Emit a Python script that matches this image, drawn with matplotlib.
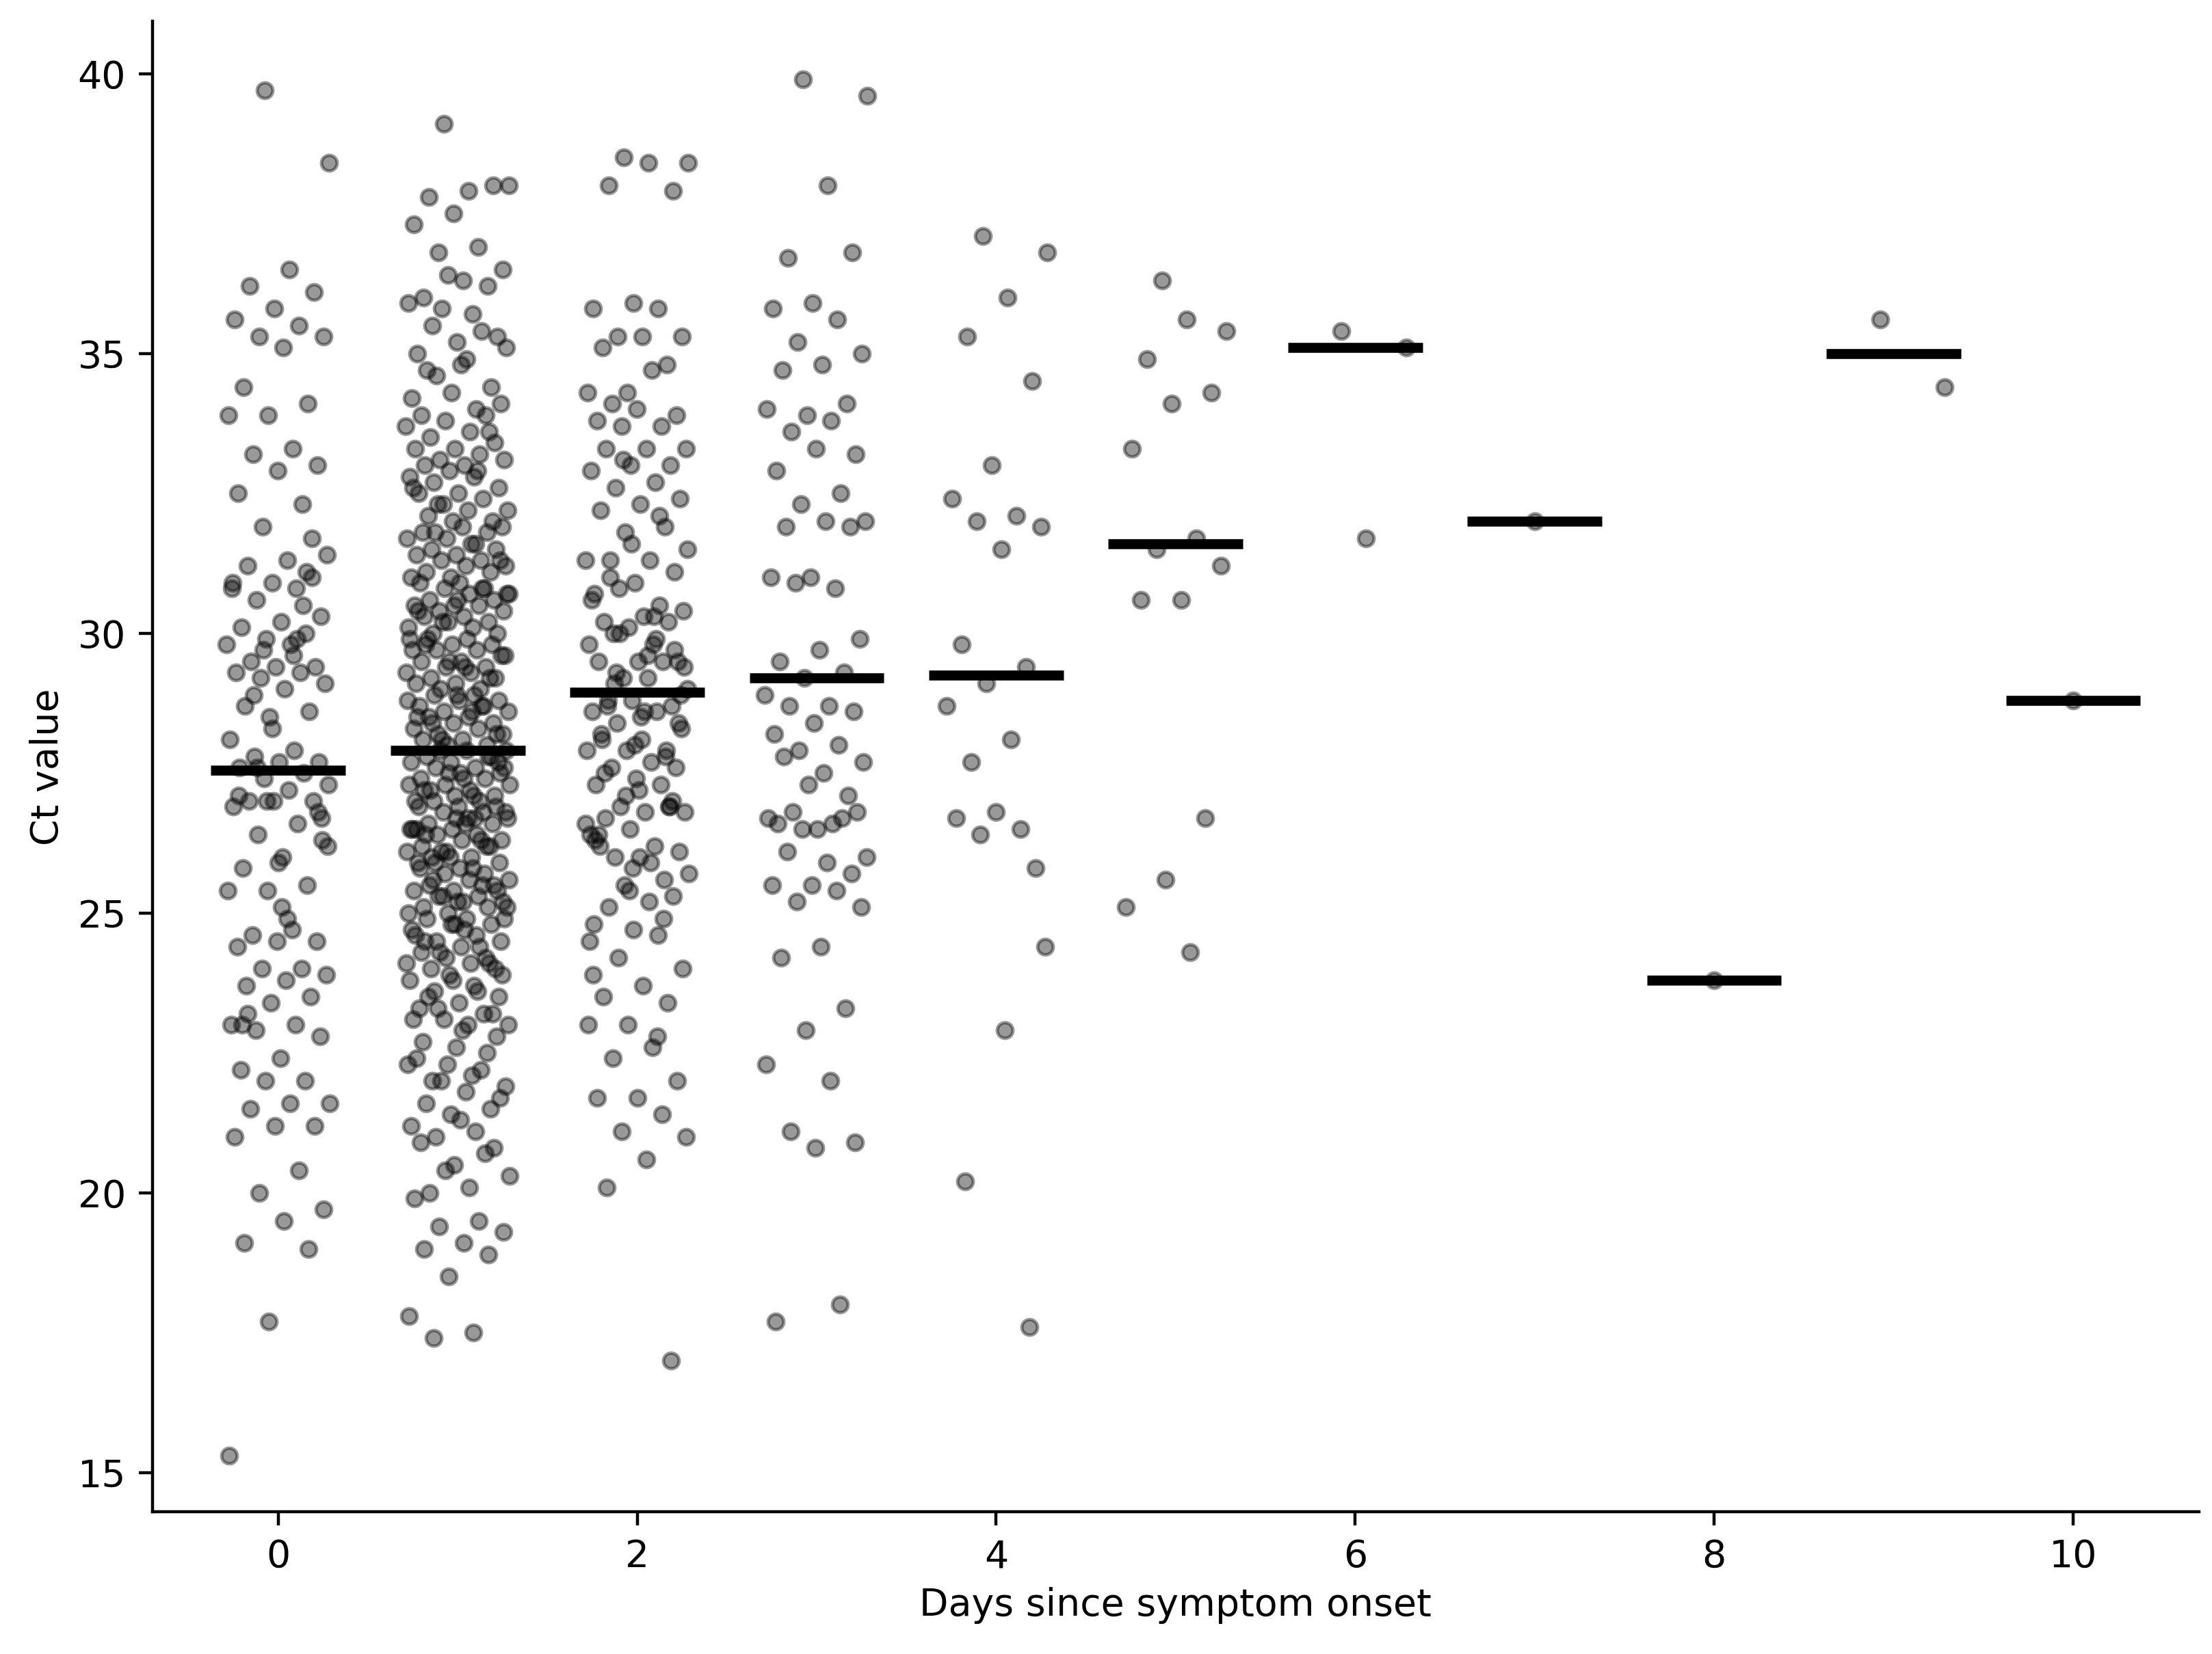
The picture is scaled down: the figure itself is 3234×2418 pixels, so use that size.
import matplotlib
matplotlib.use("Agg")
import matplotlib.pyplot as plt
import numpy as np

# Ct values per day since symptom onset
day_0 = [39.7, 38.4, 36.5, 36.2, 36.1, 35.8, 35.6, 35.5, 35.3, 35.3, 35.1, 34.4,
         34.1, 33.9, 33.9, 33.3, 33.2, 33.0, 32.9, 32.5, 32.3, 31.9, 31.4, 31.3,
         31.2, 31.0, 30.9, 30.8, 30.8, 30.6, 30.3, 30.2, 30.1, 30.0, 29.9, 29.8,
         29.8, 29.5, 29.4, 29.4, 29.3, 29.3, 29.2, 29.1, 29.0, 28.7, 28.6, 28.5,
         28.1, 27.9, 27.8, 27.7, 27.7, 27.6, 27.5, 27.4, 27.3, 27.2, 27.0, 27.0,
         27.0, 26.9, 26.6, 26.4, 26.3, 26.0, 25.8, 25.5, 25.4, 25.4, 24.7, 24.6,
         24.5, 24.5, 24.4, 24.0, 24.0, 23.9, 23.8, 23.7, 23.5, 23.4, 23.0, 23.0,
         22.9, 22.8, 22.4, 22.2, 22.0, 22.0, 21.6, 21.6, 21.5, 21.2, 21.2, 21.0,
         20.4, 20.0, 19.7, 19.5, 19.1, 19.0, 17.7, 15.3, 29.6, 28.9, 26.8, 25.9,
         27.1, 30.5, 29.7, 26.2, 24.9, 23.2, 31.7, 28.3, 30.9, 29.9, 27.6, 26.7,
         25.1, 23.0, 31.1, 27.0]
day_1 = [39.1, 38.0, 37.9, 37.8, 38.0, 37.5, 37.3,
         36.9, 36.8, 36.5, 36.3, 36.0, 36.2, 36.4,
         35.9, 35.7, 35.5, 35.3, 35.2, 35.0, 35.4, 35.8, 35.1,
         34.9, 34.7, 34.4, 34.3, 34.2, 34.0, 34.6, 34.1, 34.8,
         33.9, 33.9, 33.8, 33.7, 33.6, 33.5, 33.4, 33.3, 33.3, 33.2, 33.1, 33.1,
         33.0, 33.0, 33.6,
         32.9, 32.8, 32.8, 32.7, 32.6, 32.5, 32.5, 32.4, 32.3, 32.2, 32.2, 32.1,
         32.0, 32.0, 32.6, 32.9, 32.3,
         31.9, 31.9, 31.8, 31.8, 31.7, 31.7, 31.6, 31.5, 31.5, 31.4, 31.4, 31.3,
         31.3, 31.2, 31.2, 31.1, 31.1, 31.0, 31.0, 31.6, 31.8, 31.3,
         30.9, 30.9, 30.8, 30.8, 30.7, 30.7, 30.6, 30.6, 30.5, 30.5, 30.5, 30.4,
         30.4, 30.3, 30.3, 30.2, 30.2, 30.1, 30.1, 30.0, 30.0, 30.6, 30.4, 30.8,
         30.2, 30.7,
         29.9, 29.9, 29.8, 29.8, 29.7, 29.7, 29.7, 29.6, 29.5, 29.5, 29.4, 29.4,
         29.3, 29.3, 29.2, 29.2, 29.1, 29.1, 29.0, 29.0, 29.6, 29.4, 29.8, 29.2,
         29.5, 29.9,
         28.9, 28.9, 28.8, 28.8, 28.7, 28.7, 28.6, 28.6, 28.5, 28.5, 28.4, 28.4,
         28.3, 28.3, 28.2, 28.2, 28.1, 28.1, 28.0, 28.0, 28.8, 28.6, 28.4, 28.2,
         28.9, 28.5, 28.7, 28.1,
         27.9, 27.9, 27.8, 27.8, 27.7, 27.7, 27.6, 27.6, 27.5, 27.5, 27.4, 27.4,
         27.3, 27.3, 27.2, 27.2, 27.1, 27.1, 27.0, 27.0, 27.9, 27.6, 27.4, 27.2,
         27.8, 27.5, 27.3, 27.1, 27.0, 27.7,
         26.9, 26.9, 26.8, 26.8, 26.7, 26.7, 26.6, 26.6, 26.5, 26.5, 26.4, 26.4,
         26.3, 26.3, 26.2, 26.2, 26.1, 26.1, 26.0, 26.0, 26.9, 26.7, 26.5, 26.3,
         26.1, 26.8, 26.6, 26.4, 26.2, 26.0, 26.5, 26.7,
         25.9, 25.9, 25.8, 25.8, 25.7, 25.7, 25.6, 25.6, 25.5, 25.5, 25.4, 25.4,
         25.3, 25.3, 25.2, 25.2, 25.1, 25.1, 25.0, 25.0, 25.8, 25.6, 25.4, 25.2,
         25.9, 25.5, 25.3, 25.1,
         24.9, 24.9, 24.8, 24.8, 24.7, 24.6, 24.5, 24.5, 24.4, 24.3, 24.2, 24.2,
         24.1, 24.1, 24.0, 24.0, 24.8, 24.6, 24.4, 24.3, 24.9, 24.7, 24.5, 24.1,
         23.9, 23.8, 23.7, 23.6, 23.5, 23.4, 23.3, 23.2, 23.1, 23.0, 23.0, 23.5,
         23.2, 23.8, 23.1, 23.6, 23.3, 23.9,
         22.9, 22.7, 22.5, 22.3, 22.3, 22.1, 22.0, 22.8, 22.6, 22.4, 22.2, 22.0,
         21.9, 21.8, 21.6, 21.5, 21.4, 21.2, 21.1, 21.0, 21.7, 21.3,
         20.9, 20.7, 20.4, 20.3, 20.1, 20.0, 20.8, 20.5,
         19.9, 19.5, 19.4, 19.3, 19.1, 19.0, 18.9,
         18.5,
         17.8, 17.5, 17.4]
day_2 = [38.5, 38.4, 38.4, 38.0, 37.9, 35.9, 35.8, 35.8, 35.3, 35.3, 35.3, 35.1,
         34.8, 34.3, 34.3, 34.7, 34.1, 33.9, 34.0, 33.8, 33.7, 33.7, 33.3, 33.3,
         33.3, 33.0, 33.0, 32.9, 32.7, 32.6, 32.4, 32.3, 32.2, 31.9, 31.8, 31.3,
         31.3, 31.3, 31.1, 30.9, 30.7, 30.5, 30.8, 30.4, 30.3, 30.2, 30.2, 30.1,
         29.8, 29.8, 30.0, 29.5, 29.5, 29.5, 29.5, 29.2, 29.0, 29.2, 28.7, 28.7,
         28.8, 28.6, 28.6, 28.4, 28.3, 28.1, 28.1, 27.9, 27.9, 27.9, 27.7, 27.6,
         27.6, 27.4, 27.3, 27.3, 26.9, 26.8, 26.8, 26.7, 26.9, 26.5, 26.4, 26.2,
         26.0, 26.1, 26.0, 26.2, 25.6, 25.5, 25.7, 25.2, 25.1, 25.3, 24.7, 24.8,
         24.6, 24.2, 24.0, 23.7, 23.5, 23.4, 23.0, 23.0, 22.6, 22.4, 22.0, 21.7,
         21.7, 21.4, 21.1, 21.0, 20.6, 20.1, 17.0, 31.6, 30.6, 29.9, 29.3, 28.9,
         28.5, 28.2, 27.8, 27.1, 26.6, 25.9, 31.0, 29.7, 28.0, 26.3, 32.1, 30.0,
         29.4, 28.6, 27.5, 26.9, 25.4, 24.5, 30.3, 29.1, 28.4, 27.2, 26.4, 24.9,
         33.1, 31.5, 29.6, 28.8, 27.0, 25.8, 23.9, 22.8]
day_3 = [39.9, 39.6, 38.0, 36.7, 36.8, 35.9, 35.8, 35.6, 35.2, 35.0, 34.8, 34.7,
         34.1, 33.9, 34.0, 33.8, 33.6, 33.2, 33.3, 32.9, 32.5, 32.3, 32.0, 32.0,
         31.9, 31.9, 31.0, 31.0, 30.8, 30.9, 29.9, 29.7, 29.5, 29.3, 29.2, 28.9,
         28.7, 28.7, 28.6, 28.4, 28.2, 28.0, 27.9, 27.7, 27.5, 27.8, 27.1, 27.3,
         26.7, 26.6, 26.8, 26.8, 26.5, 26.6, 26.7, 26.5, 26.0, 25.9, 26.1, 25.7,
         25.5, 25.5, 25.4, 25.2, 25.1, 24.4, 24.2, 23.3, 22.9, 22.3, 22.0, 21.1,
         20.9, 20.8, 17.7, 18.0]
day_4 = [37.1, 36.8, 36.0, 35.3, 34.5, 33.0, 32.4, 32.1, 32.0, 31.9, 31.5, 29.8,
         29.4, 29.1, 28.7, 28.1, 27.7, 25.8, 26.8, 26.7, 26.5, 26.4, 24.4, 22.9,
         20.2, 17.6]
day_5 = [36.3, 35.4, 35.6, 34.9, 34.3, 34.1, 33.3, 31.7, 31.5, 31.2, 30.6, 30.6,
         26.7, 25.6, 25.1, 24.3]
day_6 = [35.4, 35.1, 31.7]
day_7 = [32.0]
day_8 = [23.8]
day_9 = [35.6, 34.4]
day_10 = [28.8]

days = [0, 1, 2, 3, 4, 5, 6, 7, 8, 9, 10]
ct_by_day = [day_0, day_1, day_2, day_3, day_4, day_5, day_6, day_7, day_8,
             day_9, day_10]
# median bars as drawn in the reference
medians = [27.55, 27.9, 28.95, 29.2, 29.25, 31.6, 35.1, 32.0, 23.8, 35.0, 28.8]

plt.rcParams['font.size'] = 13.3
plt.rcParams['axes.linewidth'] = 1.07
plt.rcParams['xtick.major.size'] = 4.7
plt.rcParams['ytick.major.size'] = 4.7
plt.rcParams['xtick.major.width'] = 1.07
plt.rcParams['ytick.major.width'] = 1.07
plt.rcParams['xtick.major.pad'] = 4.7
plt.rcParams['ytick.major.pad'] = 4.7

fig = plt.figure(figsize=(10.78, 8.06), dpi=300)
ax = fig.add_axes([0.069, 0.086, 0.925, 0.901])

golden = 0.6180339887
for day, vals in zip(days, ct_by_day):
    vals = np.asarray(vals)
    if len(vals) > 1:
        offs = ((np.arange(len(vals)) * golden + 0.37) % 1.0 - 0.5) * 0.58
    else:
        offs = np.zeros(1)
    ax.scatter(day + offs, vals, s=30, facecolor='black', edgecolor='black',
               linewidth=1.2, alpha=0.4, zorder=2)

ax.hlines(medians, np.array(days) - 0.375, np.array(days) + 0.375,
          color='black', linewidth=3.5, zorder=3)

ax.set_xlim(-0.7, 10.7)
ax.set_ylim(14.3, 40.93)
ax.set_xticks([0, 2, 4, 6, 8, 10])
ax.set_yticks([15, 20, 25, 30, 35, 40])
ax.set_xlabel('Days since symptom onset')
ax.set_ylabel('Ct value')
ax.spines['top'].set_visible(False)
ax.spines['right'].set_visible(False)

fig.savefig('out.png', dpi=300, facecolor='white')
